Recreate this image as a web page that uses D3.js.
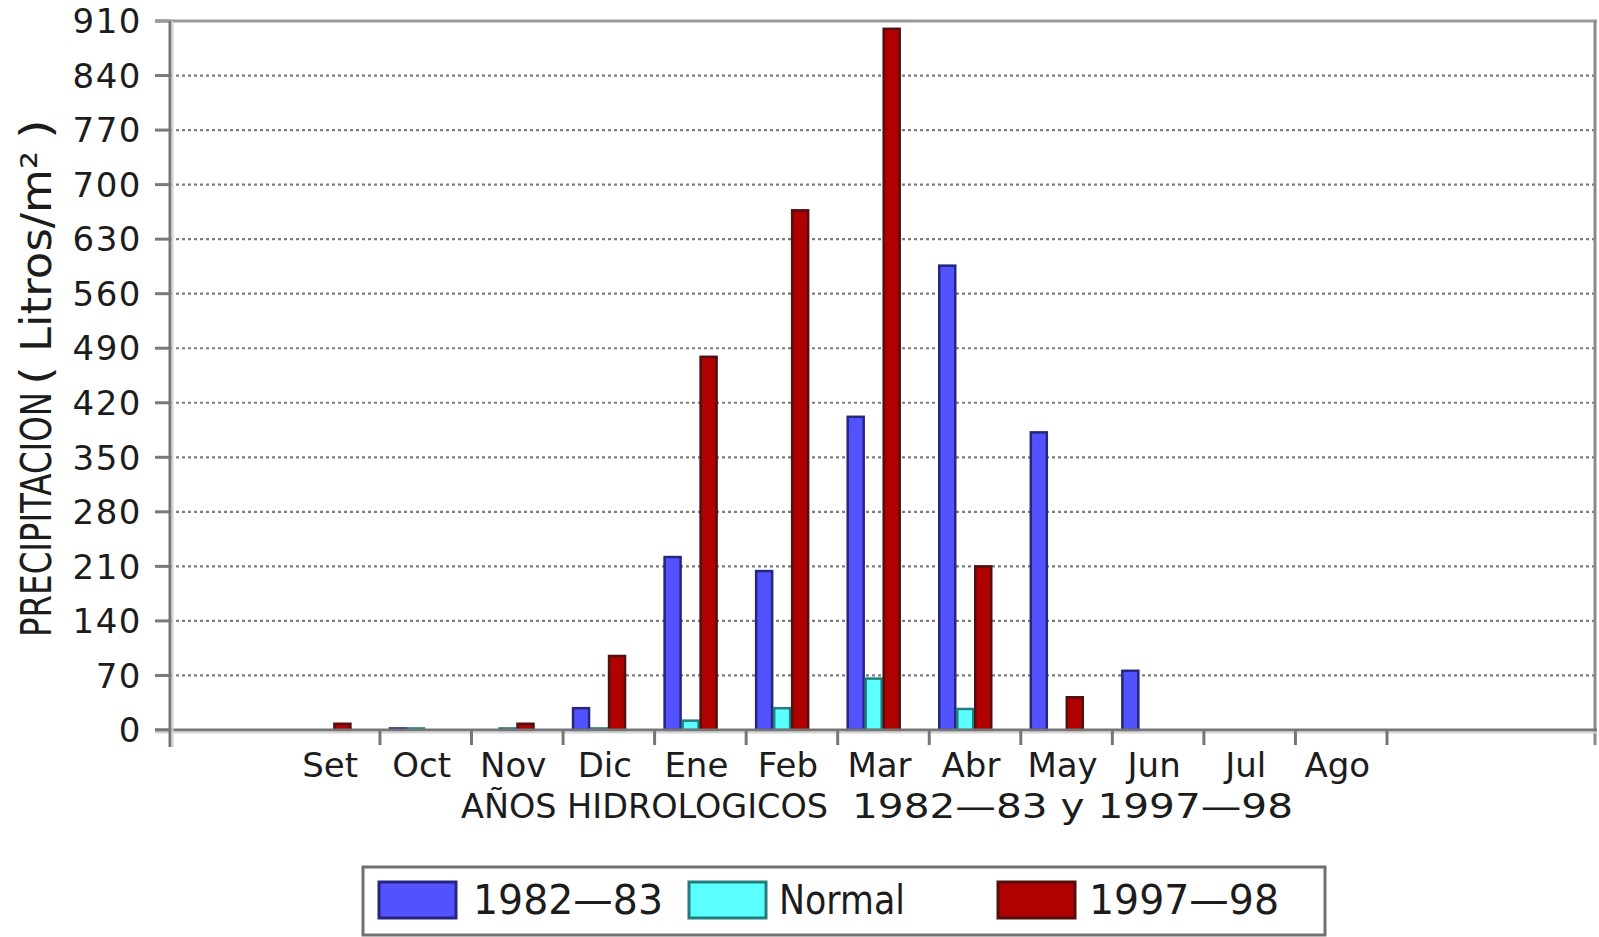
<!DOCTYPE html>
<html>
<head>
<meta charset="utf-8">
<script src="https://cdn.jsdelivr.net/npm/d3@7"></script>
<style>
  body { margin: 0; background: #fff; }
  svg { display: block; }
  text { font-family: "DejaVu Sans", Verdana, sans-serif; fill: #1c1c1c; }
</style>
</head>
<body>
<svg id="chart" width="1599" height="937"></svg>
<script>
// chart data
var months   = ["Set", "Oct", "Nov", "Dic", "Ene", "Feb", "Mar", "Abr", "May", "Jun", "Jul", "Ago"];
var series   = ["1982-83", "Normal", "1997-98"];
var legendLabels = ["1982—83", "Normal", "1997—98"];
var val8283  = [0, 2, 0, 28, 222, 204, 402, 596, 382, 76, 0, 0];
var valNorm  = [0, 2, 2, 2, 12, 28, 66, 27, 0, 0, 0, 0];
var val9798  = [8, 0, 8, 95, 479, 667, 900, 210, 42, 0, 0, 0];
var yTickVals = [0, 70, 140, 210, 280, 350, 420, 490, 560, 630, 700, 770, 840, 910];

var fills   = ["#5252ff", "#5affff", "#b00000"];
var strokes = ["#26267e", "#267c7c", "#521010"];

var svg = d3.select("#chart");

var plotLeft = 170, plotRight = 1595, plotTop = 21, plotBottom = 730;

var yScale = d3.scaleLinear().domain([0, 910]).range([plotBottom, plotTop]);
var x0 = d3.scaleBand().domain(months).range([288.4, 1387]);
var x1 = d3.scaleBand().domain(series).range([9, 63]);

// grid lines + left ticks
var grid = svg.append("g");
yTickVals.forEach(function (v) {
    if (v === 0 || v === 910) return;
    grid.append("line")
        .attr("x1", plotLeft).attr("x2", plotRight)
        .attr("y1", yScale(v)).attr("y2", yScale(v))
        .attr("stroke", "#7c7c7c").attr("stroke-width", 2.2)
        .attr("stroke-dasharray", "3,3");
});
yTickVals.forEach(function (v) {
    grid.append("line")
        .attr("x1", 155).attr("x2", plotLeft)
        .attr("y1", yScale(v)).attr("y2", yScale(v))
        .attr("stroke", "#7a7a7a").attr("stroke-width", 3);
});

// frame
svg.append("line").attr("x1", 155).attr("x2", plotRight + 2)
    .attr("y1", plotTop).attr("y2", plotTop)
    .attr("stroke", "#9a9a9a").attr("stroke-width", 3);
svg.append("line").attr("x1", plotRight).attr("x2", plotRight)
    .attr("y1", plotTop).attr("y2", 745)
    .attr("stroke", "#8a8a8a").attr("stroke-width", 3);

// bars
var barData = [val8283, valNorm, val9798];
var bars = svg.append("g");
series.forEach(function (s, si) {
    bars.selectAll("rect.s" + si)
        .data(months.map(function (m, i) { return { m: m, v: barData[si][i] }; })
                    .filter(function (d) { return d.v > 0; }))
        .enter()
        .append("rect")
        .attr("class", "s" + si)
        .attr("x", function (d) { return x0(d.m) + x1(s) + 1; })
        .attr("y", function (d) { return yScale(d.v); })
        .attr("width", x1.bandwidth() - 2)
        .attr("height", function (d) { return yScale(0) - yScale(d.v); })
        .attr("fill", fills[si])
        .attr("stroke", strokes[si])
        .attr("stroke-width", 2.5);
});

// axes lines
svg.append("line").attr("x1", 155).attr("x2", plotRight + 2)
    .attr("y1", plotBottom).attr("y2", plotBottom)
    .attr("stroke", "#767676").attr("stroke-width", 3);
svg.append("line").attr("x1", 155).attr("x2", plotRight + 2)
    .attr("y1", plotBottom + 2.5).attr("y2", plotBottom + 2.5)
    .attr("stroke", "#d4d4d4").attr("stroke-width", 2);
svg.append("line").attr("x1", plotLeft).attr("x2", plotLeft)
    .attr("y1", plotTop).attr("y2", 747)
    .attr("stroke", "#767676").attr("stroke-width", 3);
svg.append("line").attr("x1", plotLeft + 2.5).attr("x2", plotLeft + 2.5)
    .attr("y1", plotTop).attr("y2", 747)
    .attr("stroke", "#d0d0d0").attr("stroke-width", 2);

// x ticks at right edge of each month
months.forEach(function (m) {
    var xt = x0(m) + x0.bandwidth();
    svg.append("line").attr("x1", xt).attr("x2", xt)
        .attr("y1", plotBottom).attr("y2", 745)
        .attr("stroke", "#767676").attr("stroke-width", 3);
});

// y tick labels
svg.append("g").selectAll("text")
    .data(yTickVals)
    .enter()
    .append("text")
    .attr("x", 142)
    .attr("y", function (d) { return yScale(d); })
    .attr("dy", "0.36em")
    .attr("text-anchor", "end")
    .style("font-size", "34px")
    .style("letter-spacing", "1.5px")
    .text(function (d) { return d; });

// month labels
svg.append("g").selectAll("text")
    .data(months)
    .enter()
    .append("text")
    .attr("x", function (d) { return x0(d) + x0.bandwidth() / 2 - 4; })
    .attr("y", 777)
    .attr("text-anchor", "middle")
    .style("font-size", "34px")
    .text(function (d) { return d; });

// x title
svg.append("text").attr("x", 461).attr("y", 818)
    .attr("textLength", 367).attr("lengthAdjust", "spacingAndGlyphs")
    .style("font-size", "34px")
    .text("AÑOS HIDROLOGICOS");
svg.append("text").attr("x", 852).attr("y", 818)
    .attr("textLength", 441).attr("lengthAdjust", "spacingAndGlyphs")
    .style("font-size", "34px")
    .text("1982—83 y 1997—98");

// y title, in pieces (rotated)
var yTitle = svg.append("g").attr("transform", "translate(36,0) rotate(-90)");
var yParts = [
    { t: "PRECIPITACION", a: 637, b: 392 },
    { t: "(",             a: 385, b: 366 },
    { t: "Litros/m²",     a: 352, b: 151 },
    { t: ")",             a: 139, b: 119 }
];
yParts.forEach(function (p) {
    yTitle.append("text")
        .attr("x", -p.a).attr("y", 0).attr("dy", "0.36em")
        .attr("textLength", p.a - p.b).attr("lengthAdjust", "spacingAndGlyphs")
        .style("font-size", "42px")
        .text(p.t);
});

// legend
var legend = svg.append("g");
legend.append("rect")
    .attr("x", 363).attr("y", 867).attr("width", 962).attr("height", 68)
    .attr("fill", "#fff").attr("stroke", "#707070").attr("stroke-width", 3);
var swX = [379, 689, 998];
var txX = [473, 779, 1089];
var txW = [190, 126, 190];
series.forEach(function (s, i) {
    legend.append("rect")
        .attr("x", swX[i]).attr("y", 882).attr("width", 77).attr("height", 36)
        .attr("fill", fills[i]).attr("stroke", strokes[i]).attr("stroke-width", 3);
    legend.append("text")
        .attr("x", txX[i]).attr("y", 900).attr("dy", "0.36em")
        .attr("textLength", txW[i]).attr("lengthAdjust", "spacingAndGlyphs")
        .style("font-size", "40px")
        .text(legendLabels[i]);
});
</script>
</body>
</html>
